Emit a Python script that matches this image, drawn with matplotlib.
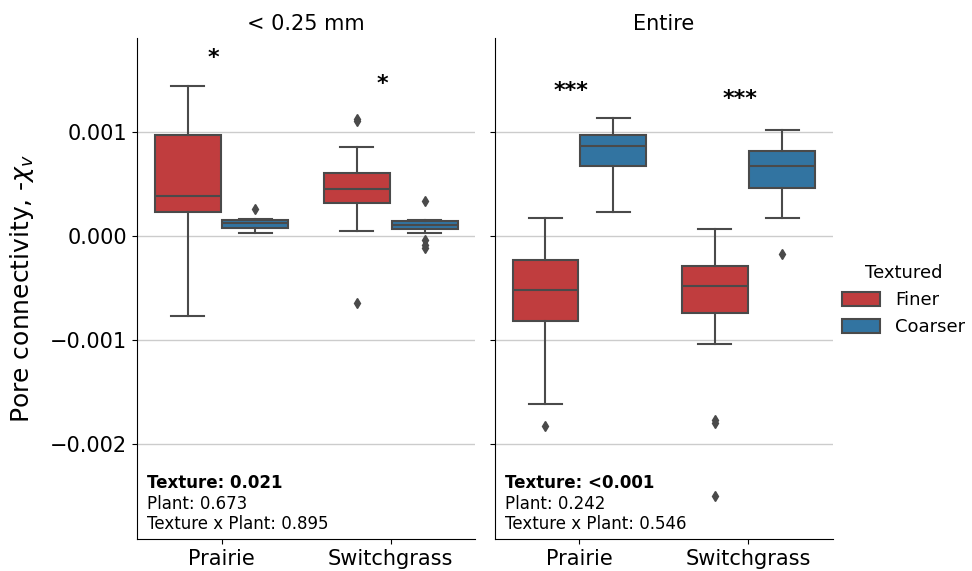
import matplotlib
matplotlib.use("Agg")
import matplotlib.pyplot as plt
from matplotlib.patches import Patch

# Box statistics (x1e-3) per panel: order Prairie-Finer, Prairie-Coarser, Switchgrass-Finer, Switchgrass-Coarser
panels = ["< 0.25 mm", "Entire"]
plants = ["Prairie", "Switchgrass"]
textures = ["Finer", "Coarser"]

fine_whislo = [-0.77, 0.032, 0.048, 0.032]
fine_q1 = [0.23, 0.077, 0.324, 0.067]
fine_med = [0.39, 0.125, 0.455, 0.106]
fine_q3 = [0.97, 0.154, 0.609, 0.144]
fine_whishi = [1.442, 0.163, 0.862, 0.154]
fine_fliers = [[], [0.26], [1.13, 1.11, -0.638], [0.343, -0.04, -0.08, -0.118]]

entire_whislo = [-1.618, 0.228, -1.038, 0.173]
entire_q1 = [-0.817, 0.676, -0.737, 0.462]
entire_med = [-0.522, 0.865, -0.481, 0.676]
entire_q3 = [-0.231, 0.978, -0.285, 0.82]
entire_whishi = [0.173, 1.138, 0.067, 1.019]
entire_fliers = [[-1.824], [], [-1.77, -1.80, -2.497], [-0.176]]

# significance stars: (x, y x1e-3, label)
stars = [
    [(-0.05, 1.71, "*"), (0.95, 1.46, "*")],
    [(-0.05, 1.40, "***"), (0.95, 1.32, "***")],
]
stats_text = [
    ("Texture: 0.021", "Plant: 0.673", "Texture x Plant: 0.895"),
    ("Texture: <0.001", "Plant: 0.242", "Texture x Plant: 0.546"),
]

colors = {"Finer": "#c03d3e", "Coarser": "#3274a1"}
line_col = "#4a4a4a"


def make_stats(lo, q1, med, q3, hi, fl):
    out = []
    for i in range(4):
        out.append(dict(whislo=lo[i] * 1e-3, q1=q1[i] * 1e-3, med=med[i] * 1e-3,
                        q3=q3[i] * 1e-3, whishi=hi[i] * 1e-3,
                        fliers=[v * 1e-3 for v in fl[i]]))
    return out


all_stats = [
    make_stats(fine_whislo, fine_q1, fine_med, fine_q3, fine_whishi, fine_fliers),
    make_stats(entire_whislo, entire_q1, entire_med, entire_q3, entire_whishi, entire_fliers),
]

fig = plt.figure(figsize=(9.72, 5.71), dpi=100)
ax1 = fig.add_axes([0.141, 0.056, 0.348, 0.877])
ax2 = fig.add_axes([0.509, 0.056, 0.348, 0.877], sharey=ax1)
axes = [ax1, ax2]

positions = [-0.2, 0.2, 0.8, 1.2]
box_cols = [colors["Finer"], colors["Coarser"], colors["Finer"], colors["Coarser"]]

for k, ax in enumerate(axes):
    bp = ax.bxp(all_stats[k], positions=positions, widths=0.39, patch_artist=True,
                boxprops=dict(edgecolor=line_col, linewidth=1.5),
                medianprops=dict(color=line_col, linewidth=1.5),
                whiskerprops=dict(color=line_col, linewidth=1.5),
                capprops=dict(color=line_col, linewidth=1.5),
                flierprops=dict(marker="d", markerfacecolor=line_col,
                                markeredgecolor=line_col, markersize=5),
                manage_ticks=False, zorder=2)
    for patch, c in zip(bp["boxes"], box_cols):
        patch.set_facecolor(c)

    ax.set_xlim(-0.5, 1.5)
    ax.set_xticks([0, 1])
    ax.set_xticklabels(plants, fontsize=15)
    ax.set_title(panels[k], fontsize=15)
    ax.yaxis.grid(True, color="#cccccc", linewidth=1, zorder=0)
    ax.set_axisbelow(True)
    for s in ["top", "right"]:
        ax.spines[s].set_visible(False)
    ax.tick_params(axis="y", labelsize=15)

    for x, y, lab in stars[k]:
        ax.text(x, y * 1e-3, lab, ha="center", va="center", fontsize=16,
                fontweight="bold")

    t1, t2, t3 = stats_text[k]
    ax.text(0.03, 0.112, t1, transform=ax.transAxes, fontsize=12,
            fontweight="bold", va="center")
    ax.text(0.03, 0.07, t2, transform=ax.transAxes, fontsize=12, va="center")
    ax.text(0.03, 0.03, t3, transform=ax.transAxes, fontsize=12, va="center")

ax1.set_ylim(-2.913e-3, 1.904e-3)
ax1.set_yticks([-0.002, -0.001, 0.0, 0.001])
ax1.set_yticklabels(["\u22120.002", "\u22120.001", "0.000", "0.001"])
ax1.set_ylabel(r"Pore connectivity, -$\chi_v$", fontsize=18, labelpad=10)
plt.setp(ax2.get_yticklabels(), visible=False)

handles = [Patch(facecolor=colors[t], edgecolor=line_col, linewidth=1.5, label=t)
           for t in textures]
fig.legend(handles=handles, title="Textured", loc="center left",
           bbox_to_anchor=(0.859, 0.474), frameon=False, fontsize=13,
           title_fontsize=13, handlelength=2.1, handleheight=0.8,
           borderaxespad=0, borderpad=0.4, handletextpad=0.85)

fig.savefig("out.png", dpi=100)
